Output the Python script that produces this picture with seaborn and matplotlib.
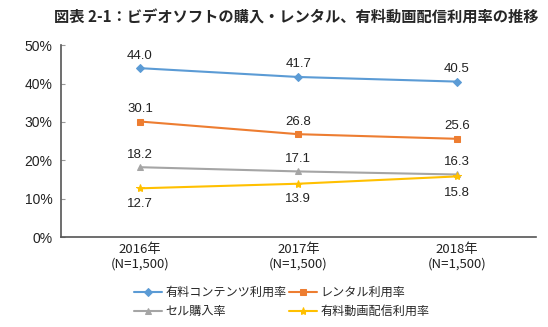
import matplotlib
matplotlib.use("Agg")
import matplotlib.pyplot as plt
import seaborn as sns
import pandas as pd
from matplotlib.ticker import PercentFormatter

sns.set_style("white")
plt.rcParams['font.family'] = ['Noto Sans CJK JP', 'DejaVu Sans']

categories = ["2016年\n(N=1,500)", "2017年\n(N=1,500)", "2018年\n(N=1,500)"]
series_names = ["有料コンテンツ利用率", "レンタル利用率", "セル購入率", "有料動画配信利用率"]
paid_content = [44.0, 41.7, 40.5]
rental = [30.1, 26.8, 25.6]
sell = [18.2, 17.1, 16.3]
streaming = [12.7, 13.9, 15.8]
title = "図表 2-1：ビデオソフトの購入・レンタル、有料動画配信利用率の推移"

colors = ["#5B9BD5", "#ED7D31", "#A5A5A5", "#FFC000"]
markers = ["D", "s", "^", "*"]
msizes = [4, 5, 5, 6]

values = [paid_content, rental, sell, streaming]
rows = []
for name, vals in zip(series_names, values):
    for i, v in enumerate(vals):
        rows.append({"x": i, "y": v, "series": name})
df = pd.DataFrame(rows)

fig = plt.figure(figsize=(5.48, 3.27), dpi=100)
ax = fig.add_axes([0.111, 0.275, 0.867, 0.587])

for name, c, m, ms in zip(series_names, colors, markers, msizes):
    sub = df[df.series == name]
    sns.lineplot(data=sub, x="x", y="y", ax=ax, color=c, marker=m, markersize=ms,
                 markeredgecolor=c, linewidth=1.5, label=name, legend=False)

# data labels
offsets = {
    series_names[0]: [9, 9, 9],
    series_names[1]: [9, 9, 9],
    series_names[2]: [9, 9, 9],
    series_names[3]: [-11, -11, -12],
}
for name, vals in zip(series_names, values):
    for i, v in enumerate(vals):
        off = offsets[name][i]
        ax.annotate(f"{v:.1f}", (i, v), xytext=(0, off), textcoords="offset points",
                    ha="center", va="center", fontsize=9.5, color="#222222",
                    family=['Liberation Sans', 'DejaVu Sans'])

ax.set_xlim(-0.5, 2.5)
ax.set_ylim(0, 50)
ax.set_yticks([0, 10, 20, 30, 40, 50])
ax.yaxis.set_major_formatter(PercentFormatter(decimals=0))
ax.set_xticks([0, 1, 2])
ax.set_xticklabels(categories)
ax.set_xlabel("")
ax.set_ylabel("")
for lab in ax.get_xticklabels() + ax.get_yticklabels():
    lab.set_fontsize(9.5)
    lab.set_color("#222222")
for lab in ax.get_yticklabels():
    lab.set_family(['Liberation Sans', 'DejaVu Sans'])
    lab.set_fontsize(10)
for s in ["top", "right"]:
    ax.spines[s].set_visible(False)
for s in ["left", "bottom"]:
    ax.spines[s].set_color("#555555")
    ax.spines[s].set_linewidth(1.2)
ax.tick_params(axis="y", direction="in", length=3, color="#999999", left=True, pad=6)
ax.tick_params(axis="x", length=0, pad=4)

handles, labels = ax.get_legend_handles_labels()
order = [0, 2, 1, 3]
leg = fig.legend([handles[i] for i in order], [labels[i] for i in order],
                 loc="lower left", bbox_to_anchor=(0.225, -0.005), ncol=2,
                 frameon=False, fontsize=8.7, handlelength=2.3, columnspacing=0.2,
                 handletextpad=0.3, labelspacing=0.45)

fig.text(0.54, 0.945, title, ha="center", va="center", fontsize=11, fontweight="bold")

fig.savefig("out.png", dpi=100)
